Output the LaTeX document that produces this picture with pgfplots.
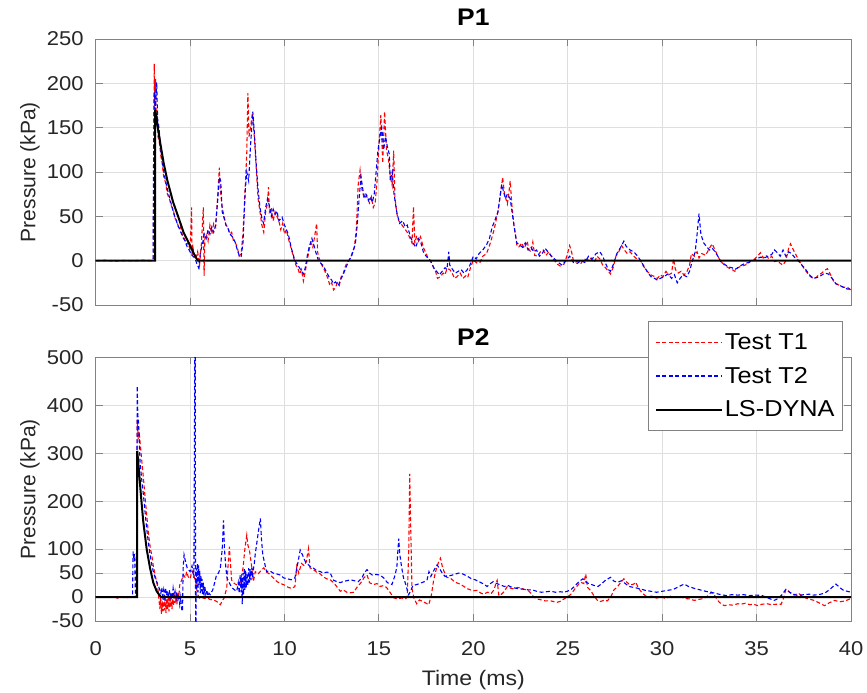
\documentclass[border=0pt]{standalone}
\usepackage{fontspec}
\setmainfont{Liberation Sans}[FakeStretch=1.1]
\newfontfamily\rotfont{Liberation Sans}
\usepackage{pgfplots}
\pgfplotsset{compat=1.18}
\definecolor{axgray}{RGB}{130,130,130}
\definecolor{gridgray}{RGB}{222,222,222}
\definecolor{txt}{RGB}{38,38,38}
\pgfplotsset{
  mybase/.style={
    scale only axis, width=755.3pt, xmin=0, xmax=40,
    axis line style={axgray, line width=0.9pt},
    grid=major, major grid style={gridgray, line width=0.9pt},
    tick style={axgray, line width=0.9pt}, major tick length=7pt,
    tick align=inside, tick pos=both, xtick={0,5,...,40},
    /pgf/number format/assume math mode=true,
    yticklabel style={font=\fontsize{20}{24}\selectfont, text=txt, anchor=east, inner sep=0pt, xshift=-12pt},
    xticklabel style={font=\fontsize{20}{24}\selectfont, text=txt, anchor=center, inner sep=0pt, yshift=-28pt},
    every axis y label/.style={at={(axis description cs:-0.087,0.5)}, rotate=90, anchor=center, font=\rotfont\fontsize{21}{24}\selectfont, text=txt},
    every axis x label/.style={at={(axis description cs:0.5,0)}, anchor=base, yshift=-64pt, font=\fontsize{21}{24}\selectfont, text=txt},
    title style={at={(axis description cs:0.5,1)}, anchor=center, font=\bfseries\fontsize{24}{28}\selectfont},
    legend image code/.code={\draw[#1] (0pt,0pt) -- (66pt,0pt);},
  },
  t1/.style={color=red, draw=red, line width=1.1pt, dash pattern=on 4pt off 2.5pt},
  t2/.style={color=blue, draw=blue, line width=1.1pt, dash pattern=on 4pt off 2.5pt},
  ls/.style={color=black, draw=black, line width=2pt},
}
\begin{document}
\begin{tikzpicture}
\useasboundingbox (0pt,0pt) rectangle (867pt,-693pt);
% ---------------- P1 ----------------
\begin{axis}[mybase, at={(95.7pt,-305pt)}, anchor=south west, height=266pt,
  ymin=-50, ymax=250, ytick={-50,0,...,250}, xticklabels={},
  ylabel={Pressure (kPa)}, title={P1}, title style={yshift=15.5pt}]
\addplot[t1] coordinates {
(0,0) (0.5,0.5) (1.0,-0.5) (1.5,0.3) (2.0,0) (2.5,0.5) (3.0,0) (3.05,1) (3.08,150) (3.1,222) (3.13,175) (3.17,205) (3.2,160) (3.25,170) (3.3,140) (3.38,132) (3.45,118) (3.52,110) (3.6,95) (3.7,88) (3.8,75) (3.9,70) (4.0,62) (4.1,58) (4.2,48) (4.3,45) (4.4,36) (4.5,38) (4.6,28) (4.7,25) (4.8,18) (4.9,20) (5.0,12) (5.05,40) (5.08,60) (5.1,5) (5.15,15) (5.2,8) (5.3,2) (5.4,10) (5.5,-5) (5.6,20) (5.7,60) (5.74,-17) (5.78,25) (5.85,30) (5.95,22) (6.05,40) (6.15,30) (6.25,42) (6.35,38) (6.45,70) (6.55,105) (6.6,80) (6.7,60) (6.8,50) (6.9,40) (7.0,38) (7.1,30) (7.2,32) (7.3,22) (7.4,20) (7.5,15) (7.6,5) (7.7,8) (7.8,30) (7.9,75) (8.0,120) (8.06,189) (8.12,140) (8.2,150) (8.3,167) (8.4,140) (8.5,105) (8.6,70) (8.7,55) (8.8,40) (8.9,32) (9.0,55) (9.1,65) (9.15,83) (9.2,55) (9.3,60) (9.4,45) (9.5,55) (9.6,50) (9.7,45) (9.8,35) (9.9,42) (10.0,30) (10.1,35) (10.2,25) (10.3,18) (10.4,10) (10.5,2) (10.6,-5) (10.7,-8) (10.8,-15) (10.9,-10) (11.0,-23) (11.1,-12) (11.2,0) (11.3,12) (11.4,20) (11.5,15) (11.6,28) (11.7,42) (11.75,10) (11.8,5) (11.9,-2) (12.0,-6) (12.1,-10) (12.2,-15) (12.3,-20) (12.4,-28) (12.5,-25) (12.6,-33) (12.7,-30) (12.8,-25) (12.9,-28) (13.0,-18) (13.1,-15) (13.2,-8) (13.3,-2) (13.4,0) (13.5,3) (13.6,10) (13.7,15) (13.8,35) (13.9,85) (14.0,102) (14.1,80) (14.2,72) (14.3,75) (14.4,70) (14.5,65) (14.6,72) (14.7,60) (14.8,65) (14.9,90) (15.0,130) (15.1,164) (15.2,110) (15.3,168) (15.4,125) (15.5,115) (15.6,95) (15.7,85) (15.78,124) (15.85,70) (15.95,53) (16.05,45) (16.15,42) (16.3,38) (16.5,32) (16.65,25) (16.75,20) (16.83,61) (16.9,20) (17.0,28) (17.1,22) (17.2,27) (17.35,15) (17.5,8) (17.6,3) (17.73,0) (17.9,-8) (18.0,-12) (18.1,-20) (18.25,-18) (18.4,-14) (18.5,-16) (18.6,-9) (18.75,-10) (18.9,-15) (19.0,-20) (19.14,-18) (19.3,-14) (19.45,-20) (19.6,-17) (19.7,-19) (19.85,-8) (20.0,1) (20.2,-3) (20.35,-2) (20.5,5) (20.7,8) (20.9,20) (21.1,35) (21.3,55) (21.4,70) (21.5,85) (21.55,94) (21.65,75) (21.8,64) (21.9,80) (21.95,90) (22.05,60) (22.15,40) (22.3,18) (22.4,15) (22.55,20) (22.7,14) (22.85,22) (22.95,12) (23.05,10) (23.15,21) (23.25,6) (23.4,5) (23.55,10) (23.7,12) (23.85,6) (24.0,10) (24.15,4) (24.3,0) (24.45,-4) (24.6,-6) (24.8,-4) (24.95,5) (25.1,17) (25.2,10) (25.3,0) (25.4,-2) (25.55,0) (25.7,-3) (25.85,2) (26.0,1) (26.2,3) (26.4,-2) (26.55,5) (26.7,2) (26.85,-5) (27.0,-8) (27.15,-12) (27.26,-15) (27.4,-8) (27.55,5) (27.7,10) (27.85,17) (28.0,12) (28.15,8) (28.3,10) (28.5,5) (28.7,1) (28.86,0) (29.0,-6) (29.2,-12) (29.4,-16) (29.6,-18) (29.75,-20) (29.9,-16) (30.05,-18) (30.2,-12) (30.35,-16) (30.5,-14) (30.6,2) (30.7,-10) (30.85,-14) (31.0,-12) (31.15,-16) (31.3,-13) (31.45,-5) (31.55,8) (31.7,5) (31.85,10) (31.95,3) (32.1,8) (32.3,6) (32.5,14) (32.65,19) (32.8,12) (32.95,5) (33.1,-1) (33.3,-5) (33.5,-8) (33.7,-10) (33.85,-12) (34.0,-8) (34.2,-6) (34.4,-5) (34.55,-3) (34.7,0) (34.9,2) (35.05,5) (35.2,9) (35.35,3) (35.5,6) (35.65,2) (35.8,5) (35.95,-1) (36.1,0) (36.25,-3) (36.4,-5) (36.55,0) (36.7,14) (36.8,19) (36.95,12) (37.1,6) (37.25,0) (37.4,-5) (37.55,-10) (37.7,-14) (37.85,-18) (38.0,-20) (38.15,-19) (38.3,-16) (38.45,-14) (38.6,-11) (38.75,-9) (38.9,-15) (39.05,-22) (39.2,-26) (39.4,-28) (39.6,-30) (39.8,-30) (40.0,-33)
};
\addplot[t2] coordinates {
(0,0) (1.0,0) (2.0,0) (3.0,0) (3.04,2) (3.06,100) (3.1,190) (3.15,170) (3.23,201) (3.28,160) (3.35,150) (3.45,125) (3.55,108) (3.65,95) (3.75,85) (3.85,76) (3.95,68) (4.05,60) (4.15,52) (4.25,46) (4.35,40) (4.45,35) (4.55,30) (4.65,25) (4.75,22) (4.85,15) (4.95,12) (5.05,8) (5.15,5) (5.25,3) (5.35,-3) (5.45,-8) (5.55,10) (5.65,18) (5.75,30) (5.85,25) (5.95,35) (6.05,30) (6.15,38) (6.25,32) (6.35,40) (6.45,65) (6.55,94) (6.62,90) (6.7,55) (6.8,48) (6.9,40) (7.0,37) (7.1,30) (7.2,28) (7.3,25) (7.4,20) (7.5,12) (7.6,6) (7.7,4) (7.8,20) (7.92,79) (8.0,100) (8.1,90) (8.2,130) (8.32,168) (8.4,145) (8.5,109) (8.6,80) (8.7,60) (8.8,48) (8.89,42) (9.0,60) (9.1,70) (9.2,62) (9.3,50) (9.4,58) (9.5,52) (9.6,56) (9.7,45) (9.87,49) (10.0,40) (10.1,35) (10.2,30) (10.35,15) (10.55,0) (10.7,-5) (10.85,-10) (11.0,-15) (11.1,-8) (11.2,5) (11.3,15) (11.45,25) (11.55,18) (11.65,10) (11.8,0) (12.06,-6) (12.2,-12) (12.35,-18) (12.5,-22) (12.58,-26) (12.7,-24) (12.85,-28) (13.0,-20) (13.1,-16) (13.25,-8) (13.4,0) (13.55,5) (13.75,19) (13.85,40) (13.95,70) (14.05,95) (14.15,80) (14.25,70) (14.35,74) (14.45,68) (14.55,72) (14.65,66) (14.75,75) (14.85,100) (14.95,125) (15.08,143) (15.15,150) (15.25,125) (15.35,140) (15.45,128) (15.55,120) (15.6,90) (15.7,100) (15.8,75) (15.96,53) (16.1,42) (16.25,45) (16.4,38) (16.5,40) (16.65,28) (16.8,20) (16.95,15) (17.1,25) (17.2,22) (17.35,10) (17.5,5) (17.73,0) (17.9,-8) (18.05,-12) (18.2,-16) (18.35,-12) (18.5,-8) (18.6,-10) (18.7,10) (18.75,-5) (18.9,-10) (19.05,-14) (19.2,-12) (19.35,-10) (19.5,-14) (19.65,-11) (19.8,-6) (20.0,5) (20.15,2) (20.3,8) (20.5,12) (20.7,18) (20.85,25) (21.0,38) (21.15,46) (21.3,55) (21.4,70) (21.5,86) (21.6,78) (21.7,70) (21.8,75) (21.95,70) (22.05,55) (22.15,40) (22.3,20) (22.45,18) (22.6,15) (22.75,20) (22.9,12) (23.05,15) (23.2,10) (23.35,12) (23.5,5) (23.65,8) (23.8,14) (23.95,10) (24.1,6) (24.3,2) (24.5,-2) (24.7,-5) (24.9,0) (25.1,5) (25.3,-2) (25.5,-3) (25.7,0) (25.9,-2) (26.1,5) (26.3,2) (26.5,8) (26.7,10) (26.85,5) (27.0,-3) (27.15,-10) (27.26,-12) (27.4,-5) (27.6,8) (27.8,15) (27.97,22) (28.1,16) (28.3,12) (28.5,10) (28.7,5) (28.86,0) (29.0,-5) (29.2,-12) (29.4,-18) (29.6,-20) (29.75,-22) (29.9,-20) (30.1,-18) (30.3,-15) (30.5,-20) (30.65,-16) (30.8,-25) (30.95,-20) (31.1,-16) (31.3,-18) (31.45,-12) (31.6,0) (31.75,10) (31.85,30) (31.95,53) (32.05,30) (32.2,20) (32.35,16) (32.5,12) (32.65,14) (32.8,10) (32.95,5) (33.1,-1) (33.3,-4) (33.5,-7) (33.7,-8) (33.85,-10) (34.0,-8) (34.2,-5) (34.4,-3) (34.6,-2) (34.8,0) (35.0,2) (35.2,4) (35.4,3) (35.6,5) (35.8,7) (35.95,12) (36.1,9) (36.25,5) (36.4,12) (36.55,5) (36.7,10) (36.85,8) (37.0,4) (37.2,0) (37.4,-5) (37.6,-10) (37.8,-16) (38.0,-20) (38.2,-19) (38.4,-17) (38.6,-14) (38.8,-15) (39.0,-20) (39.2,-26) (39.4,-28) (39.6,-30) (39.8,-32) (40,-32)
};
\addplot[ls] coordinates {
(0,0) (3.15,0) (3.15,170) (3.4,135) (3.6,110) (3.8,90) (4.1,66) (4.38,49) (4.65,32) (4.95,19) (5.2,8) (5.4,0) (40,0)
};
\end{axis}
% ---------------- P2 ----------------
\begin{axis}[mybase, at={(95.7pt,-621pt)}, anchor=south west, height=263.7pt,
  ymin=-50, ymax=500, ytick={-50,0,50,100,200,300,400,500},
  xlabel={Time (ms)}, ylabel={Pressure (kPa)}, title={P2}, title style={yshift=14pt},
  legend style={at={(rel axis cs:0.9894,1.136)}, anchor=north east, draw=axgray, line width=0.9pt, fill=white,
    font=\fontsize{23}{26}\selectfont, row sep=12pt, inner xsep=6pt, inner ysep=10pt},
  legend cell align=left]
\addplot[t1] coordinates {
(1.0,0) (1.2,-3) (1.4,0) (1.6,-2) (1.8,0) (2.0,1) (2.15,2) (2.18,150) (2.2,370) (2.25,330) (2.3,345) (2.35,323) (2.45,280) (2.53,247) (2.6,215) (2.7,171) (2.8,130) (2.9,100) (2.97,88) (3.05,65) (3.15,45) (3.23,32) (3.3,15) (3.35,-5) (3.4,-25) (3.44,0) (3.48,-35) (3.52,-8) (3.56,-30) (3.6,5) (3.64,-28) (3.68,-2) (3.72,-33) (3.76,-5) (3.8,-25) (3.84,2) (3.88,-30) (3.92,0) (3.96,-20) (4.0,5) (4.04,-25) (4.08,-3) (4.12,-18) (4.16,8) (4.2,-12) (4.25,5) (4.3,-15) (4.35,10) (4.4,0) (4.45,25) (4.55,35) (4.65,46) (4.75,40) (4.82,53) (4.9,42) (5.0,38) (5.1,55) (5.2,45) (5.3,30) (5.4,5) (5.5,-2) (5.6,0) (5.75,-3) (5.9,-2) (6.05,-5) (6.2,-6) (6.35,-8) (6.5,-12) (6.6,-16) (6.7,-8) (6.8,-2) (6.94,19) (7.0,60) (7.08,105) (7.12,80) (7.2,35) (7.35,28) (7.5,25) (7.65,30) (7.8,60) (7.9,100) (8.0,129) (8.05,110) (8.15,95) (8.25,67) (8.35,32) (8.45,53) (8.6,48) (8.75,55) (8.9,61) (9.05,52) (9.2,48) (9.4,40) (9.6,32) (9.8,28) (10.0,25) (10.2,20) (10.4,18) (10.55,22) (10.65,64) (10.75,50) (10.9,70) (11.05,65) (11.15,74) (11.27,101) (11.35,61) (11.5,58) (11.7,52) (11.9,48) (12.05,42) (12.24,38) (12.42,36) (12.6,30) (12.8,20) (12.95,12) (13.1,15) (13.3,10) (13.5,9) (13.66,10) (13.85,21) (14.05,30) (14.2,40) (14.37,46) (14.5,30) (14.7,26) (14.9,28) (15.07,22) (15.25,24) (15.4,20) (15.55,12) (15.7,3) (15.8,-2) (16.0,-4) (16.2,-2) (16.4,-4) (16.5,0) (16.58,100) (16.63,257) (16.68,150) (16.75,18) (16.85,-2) (17.0,-14) (17.15,-6) (17.3,-9) (17.45,-12) (17.64,-16) (17.78,5) (17.9,36) (18.05,60) (18.17,74) (18.26,81) (18.35,65) (18.45,53) (18.6,41) (18.8,39) (19.0,32) (19.16,29) (19.3,27) (19.5,22) (19.7,17) (19.85,15) (20.0,13) (20.2,14) (20.4,8) (20.55,6) (20.75,10) (20.95,8) (21.1,15) (21.2,30) (21.26,35) (21.35,3) (21.44,4) (21.6,10) (21.8,22) (22.0,18) (22.14,17) (22.35,20) (22.55,18) (22.7,16) (22.85,15) (23.0,10) (23.2,0) (23.38,-4) (23.6,-6) (23.8,-8) (24.1,-8) (24.3,-10) (24.44,-11) (24.6,-9) (24.8,-4) (24.97,0) (25.15,5) (25.4,18) (25.6,28) (25.68,31) (25.85,28) (25.95,48) (26.05,20) (26.2,14) (26.4,2) (26.55,-6) (26.68,-10) (26.9,-7) (27.1,-8) (27.3,2) (27.45,15) (27.62,21) (27.8,30) (27.97,38) (28.1,32) (28.3,25) (28.5,27) (28.6,31) (28.75,18) (28.95,8) (29.2,0) (29.45,2) (29.7,-2) (29.95,0) (30.2,-3) (30.45,2) (30.7,0) (30.95,1) (31.2,-3) (31.45,-4) (31.7,-7) (31.95,-5) (32.2,-3) (32.4,2) (32.6,10) (32.8,2) (33.0,-10) (33.15,-15) (33.3,-18) (33.5,-16) (33.75,-17) (34.0,-14) (34.16,-15) (34.4,-13) (34.65,-16) (34.85,-15) (35.05,-18) (35.3,-15) (35.55,-14) (35.8,-16) (36.05,-15) (36.3,-15) (36.45,0) (36.55,16) (36.7,12) (36.85,6) (37.0,4) (37.2,8) (37.4,3) (37.6,-2) (37.85,-5) (38.05,-7) (38.3,-12) (38.6,-18) (38.85,-12) (39.13,-7) (39.4,-10) (39.7,-8) (40,-3)
};
\addlegendentry{Test T1}
\addplot[t2] coordinates {
(0,0) (1.0,0) (1.5,0) (1.9,0) (1.95,2) (1.98,95) (2.02,80) (2.06,90) (2.1,10) (2.15,5) (2.18,200) (2.2,440) (2.23,380) (2.27,363) (2.35,281) (2.45,240) (2.53,212) (2.62,175) (2.7,143) (2.8,110) (2.88,88) (2.96,70) (3.05,53) (3.15,40) (3.23,32) (3.35,20) (3.45,8) (3.5,20) (3.55,2) (3.6,15) (3.65,0) (3.7,19) (3.75,3) (3.8,12) (3.85,-2) (3.9,15) (3.95,0) (4.0,10) (4.05,-3) (4.1,18) (4.15,2) (4.2,12) (4.25,-5) (4.3,10) (4.35,-8) (4.4,5) (4.45,-15) (4.5,0) (4.55,-25) (4.6,-30) (4.63,60) (4.68,88) (4.75,75) (4.85,60) (5.0,53) (5.1,65) (5.2,40) (5.25,520) (5.27,520) (5.29,-60) (5.31,-60) (5.33,60) (5.36,20) (5.39,70) (5.42,10) (5.45,66) (5.48,25) (5.51,55) (5.54,8) (5.57,45) (5.6,12) (5.63,38) (5.66,5) (5.7,30) (5.74,3) (5.78,22) (5.83,6) (5.88,15) (5.94,2) (6.0,8) (6.06,5) (6.2,15) (6.3,30) (6.4,46) (6.5,50) (6.6,60) (6.7,100) (6.77,160) (6.82,100) (6.88,67) (6.95,40) (7.05,32) (7.2,20) (7.35,15) (7.47,12) (7.55,30) (7.6,8) (7.65,46) (7.7,10) (7.73,40) (7.76,-15) (7.8,50) (7.83,5) (7.87,60) (7.9,15) (7.94,55) (7.98,20) (8.02,50) (8.06,25) (8.1,60) (8.14,30) (8.18,58) (8.22,35) (8.27,62) (8.31,40) (8.36,60) (8.4,70) (8.45,90) (8.54,115) (8.63,140) (8.72,164) (8.78,120) (8.85,88) (8.95,70) (9.05,53) (9.2,55) (9.4,50) (9.6,48) (9.77,46) (9.95,40) (10.15,38) (10.35,36) (10.55,40) (10.7,70) (10.83,98) (10.95,88) (11.1,74) (11.25,68) (11.4,62) (11.54,60) (11.7,55) (11.9,53) (12.05,50) (12.25,52) (12.42,50) (12.6,35) (12.78,32) (12.95,30) (13.15,33) (13.3,34) (13.48,36) (13.7,34) (13.9,32) (14.1,40) (14.25,52) (14.37,57) (14.5,50) (14.65,46) (14.85,47) (15.05,46) (15.25,40) (15.45,30) (15.69,26) (15.85,45) (15.95,63) (16.0,95) (16.05,122) (16.1,90) (16.2,63) (16.3,40) (16.4,29) (16.5,15) (16.58,5) (16.7,15) (16.8,24) (17.0,26) (17.2,29) (17.4,32) (17.55,36) (17.65,53) (17.75,43) (17.9,55) (18.08,67) (18.2,60) (18.35,50) (18.5,43) (18.7,44) (18.9,46) (19.05,48) (19.23,50) (19.45,48) (19.7,43) (19.9,38) (20.1,36) (20.3,32) (20.5,28) (20.73,22) (20.9,28) (21.05,32) (21.25,28) (21.45,25) (21.65,22) (21.85,24) (22.05,20) (22.3,18) (22.5,17) (22.7,16) (22.9,15) (23.12,15) (23.35,12) (23.6,10) (23.85,11) (24.1,12) (24.35,10) (24.6,11) (24.8,10) (24.97,12) (25.15,15) (25.35,22) (25.59,32) (25.8,38) (26.0,30) (26.2,27) (26.4,24) (26.6,22) (26.8,28) (27.0,35) (27.26,41) (27.45,33) (27.65,31) (27.85,34) (28.05,28) (28.25,22) (28.5,20) (28.86,17) (29.1,14) (29.4,12) (29.7,10) (30.0,12) (30.3,14) (30.6,16) (30.9,22) (31.16,27) (31.4,22) (31.7,18) (32.0,15) (32.3,12) (32.55,10) (32.8,8) (33.1,5) (33.4,3) (33.7,5) (34.0,4) (34.3,5) (34.6,3) (35.0,4) (35.3,3) (35.6,-2) (35.93,-7) (36.15,-3) (36.35,5) (36.55,16) (36.75,10) (36.95,6) (37.2,3) (37.5,5) (37.8,6) (38.0,4) (38.3,5) (38.6,8) (38.85,15) (39.05,22) (39.2,27) (39.4,20) (39.6,14) (39.8,12) (40,10)
};
\addlegendentry{Test T2}
\addplot[ls] coordinates {
(0,0) (2.2,0) (2.2,305) (2.3,260) (2.4,210) (2.52,157) (2.7,100) (2.88,60) (3.05,30) (3.23,12) (3.45,0) (40,0)
};
\addlegendentry{LS-DYNA}
\end{axis}
\end{tikzpicture}
\end{document}
